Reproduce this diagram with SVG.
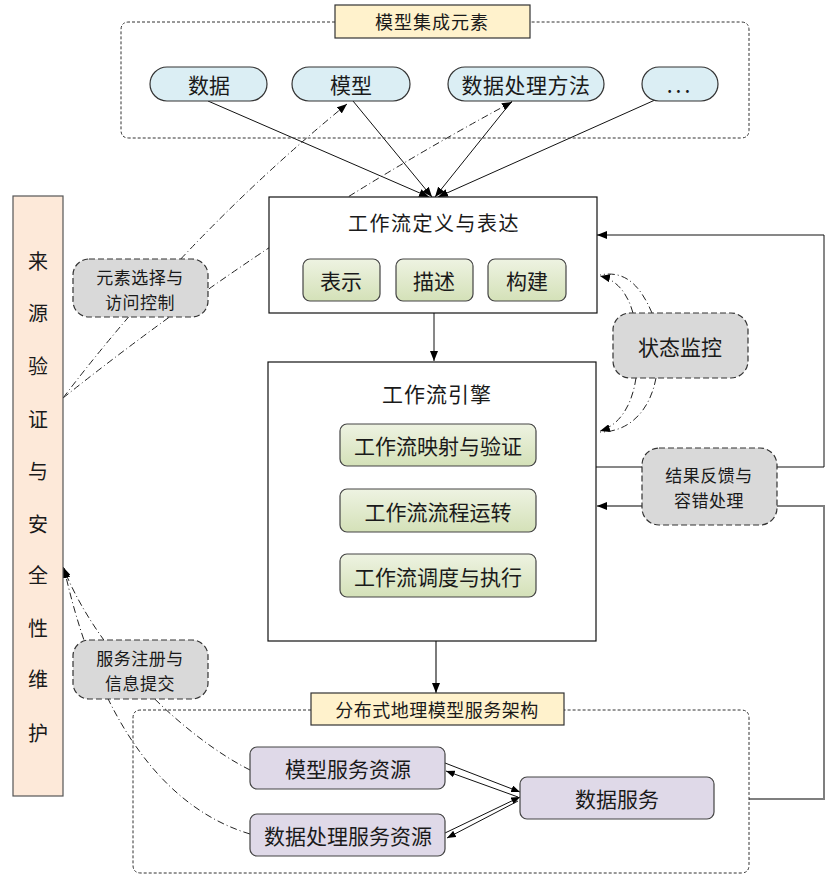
<svg xmlns="http://www.w3.org/2000/svg" width="830" height="881" viewBox="0 0 830 881">
<style>
text{font-family:"Noto Sans CJK SC","Liberation Sans",sans-serif;fill:#1a1a1a;text-anchor:middle;dominant-baseline:central}
.grp{fill:none;stroke:#333;stroke-width:1;stroke-dasharray:3,2}
.title{fill:#fff2cc;stroke:#333;stroke-width:1.2}
.pill{fill:#dbeef4;stroke:#333;stroke-width:1.2}
.box{fill:#fff;stroke:#111;stroke-width:1.2}
.green{fill:url(#gg);stroke:#444;stroke-width:1.2}
.lav{fill:#dfd9e8;stroke:#444;stroke-width:1.2}
.bub{fill:#d9d9d9;stroke:#333;stroke-width:1.2;stroke-dasharray:6,3}
.side{fill:#fde9d9;stroke:#555;stroke-width:1.2}
.ln{fill:none;stroke:#111;stroke-width:1}
.gl{fill:none;stroke:#7f7f7f;stroke-width:2}
.dd{fill:none;stroke:#222;stroke-width:1;stroke-dasharray:7,3,1,3}
.f21{font-size:21px}
.f18{font-size:18px}
.f17{font-size:17px}
.f20{font-size:20px}
</style>
<defs>
<linearGradient id="gg" x1="0" y1="0" x2="0" y2="1">
<stop offset="0" stop-color="#eef3e2"/>
<stop offset="1" stop-color="#d4e1b8"/>
</linearGradient>
<marker id="ah" viewBox="0 0 10 8" refX="10" refY="4" markerWidth="10" markerHeight="8" markerUnits="userSpaceOnUse" orient="auto">
<path d="M0,0 L10,4 L0,8 z" fill="#000"/>
</marker>
<marker id="ahs" viewBox="0 0 10 8" refX="10" refY="4" markerWidth="9" markerHeight="7" markerUnits="userSpaceOnUse" orient="auto">
<path d="M0,0 L10,4 L0,8 z" fill="#000"/>
</marker>
</defs>

<g id="connectors">
<line class="ln" x1="208" y1="101" x2="429" y2="197" marker-end="url(#ah)"/>
<line class="ln" x1="353" y1="101" x2="432" y2="197" marker-end="url(#ah)"/>
<line class="ln" x1="512" y1="101" x2="435" y2="197" marker-end="url(#ah)"/>
<line class="ln" x1="655" y1="100" x2="438" y2="197" marker-end="url(#ah)"/>
<path class="dd" d="M63,398 Q188,234 347,104" marker-end="url(#ah)"/>
<path class="dd" d="M63,398 Q274,230 512,102" marker-end="url(#ah)"/>
<line class="ln" x1="434" y1="313" x2="434" y2="361" marker-end="url(#ah)"/>
<line class="ln" x1="436" y1="466" x2="436" y2="489" marker-end="url(#ahs)"/>
<line class="ln" x1="436" y1="532" x2="436" y2="554" marker-end="url(#ahs)"/>
<line x1="436" y1="641" x2="436" y2="693" stroke="#444" stroke-width="1.4" marker-end="url(#ah)"/>
<polyline class="ln" points="596,467 824,467 824,235 597,235" stroke-width="1.3" marker-end="url(#ah)"/>
<polyline class="gl" points="749,799 824,799 824,506 597,506" marker-end="url(#ah)"/>
<path class="dd" d="M633,313 C628,295 618,280 600,276" marker-end="url(#ah)"/>
<path class="dd" d="M652,313 C640,285 625,270 600,275"/>
<path class="dd" d="M636,378 C632,405 620,425 600,431" marker-end="url(#ah)"/>
<path class="dd" d="M656,378 C650,410 630,432 600,432"/>
<path class="dd" d="M250,770 C190,740 100,660 63,567" marker-end="url(#ah)"/>
<path class="dd" d="M250,834 C170,810 100,730 64,568" marker-end="url(#ah)"/>
<line class="ln" x1="445" y1="763" x2="520" y2="792" marker-end="url(#ahs)"/>
<line class="ln" x1="518" y1="797" x2="446" y2="771" marker-end="url(#ahs)"/>
<line class="ln" x1="445" y1="833" x2="520" y2="797" marker-end="url(#ahs)"/>
<line class="ln" x1="518" y1="801" x2="447" y2="838" marker-end="url(#ahs)"/>
</g>

<g id="elements-group">
<path class="grp" d="M335,22 H129 Q121,22 121,30 V130 Q121,138 129,138 H741 Q749,138 749,130 V30 Q749,22 741,22 H530"/>
<rect class="title" x="335" y="5" width="195" height="33"/>
<text class="f18" x="432" y="21" letter-spacing="1">模型集成元素</text>
</g>
<g id="pill-data"><rect class="pill" x="150" y="67" width="117" height="34" rx="17"/><text class="f21" x="209" y="84">数据</text></g>
<g id="pill-model"><rect class="pill" x="292" y="67" width="118" height="34" rx="17"/><text class="f21" x="351" y="84">模型</text></g>
<g id="pill-method"><rect class="pill" x="448" y="67" width="156" height="34" rx="17"/><text class="f21" x="526" y="84" letter-spacing="0.5">数据处理方法</text></g>
<g id="pill-more"><rect class="pill" x="642" y="67" width="76" height="34" rx="17"/><text class="f21" x="680" y="84" letter-spacing="3">...</text></g>

<g id="side">
<rect class="side" x="13" y="196" width="50" height="600"/>
<text class="f20" x="38" y="260">来</text>
<text class="f20" x="38" y="312">源</text>
<text class="f20" x="38" y="365">验</text>
<text class="f20" x="38" y="418">证</text>
<text class="f20" x="38" y="470">与</text>
<text class="f20" x="38" y="523">安</text>
<text class="f20" x="38" y="574">全</text>
<text class="f20" x="38" y="627">性</text>
<text class="f20" x="38" y="678">维</text>
<text class="f20" x="38" y="732">护</text>
</g>

<g id="bubble-access">
<rect class="bub" x="73" y="259" width="135" height="58" rx="16"/>
<text class="f17" letter-spacing="0.5"><tspan x="140" y="275.5">元素选择与</tspan><tspan x="140" y="300.5">访问控制</tspan></text>
</g>

<g id="definition">
<rect class="box" x="269" y="197" width="328" height="116"/>
<text class="f20" x="434" y="222" letter-spacing="1.5">工作流定义与表达</text>
</g>
<g id="def-repr"><rect class="green" x="303" y="259" width="77" height="42" rx="7"/><text class="f21" x="341" y="280">表示</text></g>
<g id="def-desc"><rect class="green" x="396" y="259" width="77" height="42" rx="7"/><text class="f21" x="434" y="280">描述</text></g>
<g id="def-build"><rect class="green" x="488" y="259" width="78" height="42" rx="7"/><text class="f21" x="527" y="280">构建</text></g>

<g id="engine">
<rect class="box" x="268" y="362" width="328" height="279"/>
<text class="f21" x="437" y="393" letter-spacing="1">工作流引擎</text>
</g>
<g id="eng-map"><rect class="green" x="340" y="424" width="196" height="42" rx="7"/><text class="f21" x="438" y="445">工作流映射与验证</text></g>
<g id="eng-run"><rect class="green" x="340" y="489" width="196" height="43" rx="7"/><text class="f21" x="438" y="511">工作流流程运转</text></g>
<g id="eng-exec"><rect class="green" x="340" y="554" width="196" height="43" rx="7"/><text class="f21" x="438" y="576">工作流调度与执行</text></g>

<g id="bubble-monitor">
<rect class="bub" x="613" y="313" width="135" height="65" rx="17"/>
<text class="f21" x="680" y="346">状态监控</text>
</g>
<g id="bubble-feedback">
<rect class="bub" x="642" y="448" width="135" height="77" rx="17"/>
<text class="f17" letter-spacing="0.5"><tspan x="709" y="474">结果反馈与</tspan><tspan x="709" y="499">容错处理</tspan></text>
</g>

<g id="bubble-register">
<rect class="bub" x="73" y="640" width="135" height="59" rx="16"/>
<text class="f17" letter-spacing="0.5"><tspan x="140" y="657">服务注册与</tspan><tspan x="140" y="682">信息提交</tspan></text>
</g>

<g id="service-group">
<path class="grp" d="M311,710 H141 Q133,710 133,718 V865 Q133,873 141,873 H741 Q749,873 749,865 V718 Q749,710 741,710 H564"/>
<rect class="title" x="311" y="693" width="253" height="32"/>
<text class="f18" x="437" y="709" letter-spacing="0.5">分布式地理模型服务架构</text>
</g>
<g id="svc-model"><rect class="lav" x="250" y="747" width="195" height="42" rx="7"/><text class="f21" x="348" y="768">模型服务资源</text></g>
<g id="svc-proc"><rect class="lav" x="250" y="814" width="195" height="42" rx="7"/><text class="f21" x="348" y="835">数据处理服务资源</text></g>
<g id="svc-data"><rect class="lav" x="520" y="777" width="194" height="42" rx="7"/><text class="f21" x="617" y="798">数据服务</text></g>
</svg>
